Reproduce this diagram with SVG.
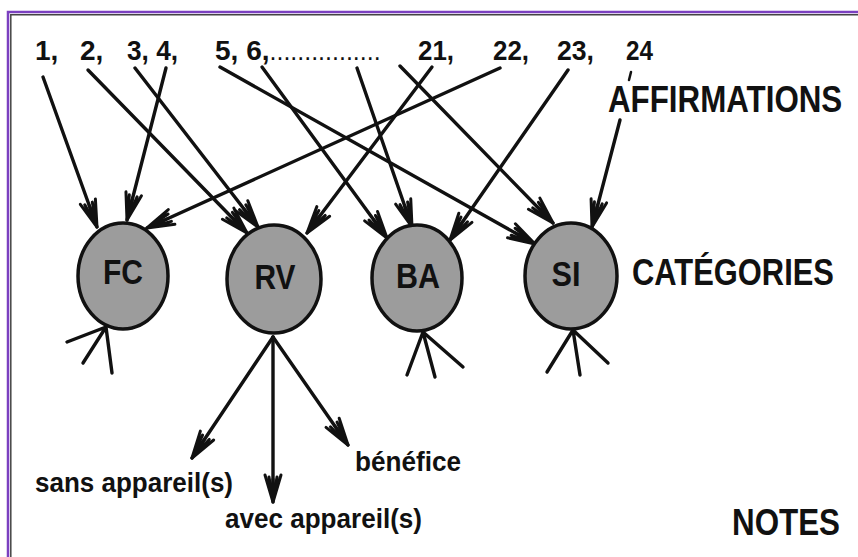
<svg xmlns="http://www.w3.org/2000/svg" width="858" height="557" viewBox="0 0 858 557">
  <style>
    .frame-out { stroke: #7b40c0; stroke-width: 2.5; fill: none; }
    .frame-in { stroke: #444; stroke-width: 1.5; fill: none; }
    .node { fill: #9c9c9c; stroke: #111; stroke-width: 3.5; }
    .lbl { font-family: "Liberation Sans", Arial, sans-serif; font-weight: bold; fill: #111; }
    .edge { stroke: #111; stroke-width: 3.4; fill: none; stroke-linecap: round; }
    .stub { stroke: #111; stroke-width: 3.4; fill: none; stroke-linecap: round; }
  </style>
  <defs>
    <marker id="arr" markerUnits="userSpaceOnUse" viewBox="-30 -12 32 24" markerWidth="32" markerHeight="24" refX="0" refY="0" orient="auto" overflow="visible">
      <path d="M0,0 L-27,-8 M0,0 L-27,8 M0,0 L-25,-4 M0,0 L-25,4 M0,0 L-23,0" stroke="#111" stroke-width="3" fill="none" stroke-linecap="round"/>
    </marker>
  </defs>
  <rect width="858" height="557" fill="#fff"/>
  <path class="frame-out" d="M8,557 L8,12 L858,12"/>
  <path class="frame-in" d="M10.8,557 L10.8,14.8 L858,14.8"/>

  <g id="affirmations" class="lbl" font-size="28">
    <text x="35" y="60">1,</text>
    <text x="80" y="60">2,</text>
    <text x="127" y="60" textLength="51" lengthAdjust="spacingAndGlyphs">3, 4,</text>
    <text x="215" y="60">5, 6,<tspan font-size="25" font-weight="normal">................</tspan></text>
    <text x="418" y="60" textLength="36" lengthAdjust="spacingAndGlyphs">21,</text>
    <text x="493" y="60" textLength="36" lengthAdjust="spacingAndGlyphs">22,</text>
    <text x="557" y="60" textLength="37" lengthAdjust="spacingAndGlyphs">23,</text>
    <text x="626" y="60" textLength="27" lengthAdjust="spacingAndGlyphs">24</text>
    <path d="M631,72 L629,80" stroke="#111" stroke-width="2.5" stroke-linecap="round"/>
    <text transform="translate(608,112) scale(0.87,1)" font-size="36">AFFIRMATIONS</text>
  </g>

  <g id="connectors">
    <line class="edge" x1="43" y1="77" x2="97" y2="227" marker-end="url(#arr)"/>
    <line class="edge" x1="88" y1="70" x2="247" y2="233" marker-end="url(#arr)"/>
    <line class="edge" x1="135" y1="68" x2="258" y2="227" marker-end="url(#arr)"/>
    <line class="edge" x1="166" y1="68" x2="127" y2="220" marker-end="url(#arr)"/>
    <line class="edge" x1="220" y1="67" x2="535" y2="244" marker-end="url(#arr)"/>
    <line class="edge" x1="262" y1="67" x2="387" y2="238" marker-end="url(#arr)"/>
    <line class="edge" x1="357" y1="68" x2="412" y2="227" marker-end="url(#arr)"/>
    <line class="edge" x1="400" y1="66" x2="553" y2="223" marker-end="url(#arr)"/>
    <line class="edge" x1="432" y1="67" x2="307" y2="233" marker-end="url(#arr)"/>
    <line class="edge" x1="500" y1="68" x2="147" y2="228" marker-end="url(#arr)"/>
    <line class="edge" x1="568" y1="70" x2="450" y2="240" marker-end="url(#arr)"/>
    <line class="edge" x1="620" y1="120" x2="592" y2="227" marker-end="url(#arr)"/>

    <line class="edge" x1="273" y1="337" x2="192" y2="458" marker-end="url(#arr)"/>
    <line class="edge" x1="273" y1="337" x2="273" y2="502" marker-end="url(#arr)"/>
    <line class="edge" x1="273" y1="337" x2="348" y2="445" marker-end="url(#arr)"/>

    <path class="stub" d="M106,327 L67,342 M106,327 L83,363 M106,327 L112,373"/>
    <path class="stub" d="M423,332 L407,375 M423,332 L435,377 M423,332 L463,367"/>
    <path class="stub" d="M573,330 L547,372 M573,330 L580,375 M573,330 L608,363"/>
  </g>

  <g id="node-FC">
    <ellipse class="node" cx="123" cy="276" rx="45" ry="53"/>
    <text class="lbl" x="123" y="284" font-size="35" text-anchor="middle" textLength="40" lengthAdjust="spacingAndGlyphs">FC</text>
  </g>
  <g id="node-RV">
    <ellipse class="node" cx="274" cy="279" rx="47" ry="54"/>
    <text class="lbl" x="275" y="289" font-size="35" text-anchor="middle" textLength="41" lengthAdjust="spacingAndGlyphs">RV</text>
  </g>
  <g id="node-BA">
    <ellipse class="node" cx="417" cy="278" rx="45" ry="53"/>
    <text class="lbl" x="418" y="288" font-size="35" text-anchor="middle" textLength="44" lengthAdjust="spacingAndGlyphs">BA</text>
  </g>
  <g id="node-SI">
    <ellipse class="node" cx="571" cy="276" rx="46" ry="53"/>
    <text class="lbl" x="566" y="286" font-size="35" text-anchor="middle" textLength="29" lengthAdjust="spacingAndGlyphs">SI</text>
  </g>

  <g id="labels" class="lbl">
    <text transform="translate(632,285) scale(0.835,1)" font-size="37">CATÉGORIES</text>
    <text x="732" y="535" font-size="37" textLength="108" lengthAdjust="spacingAndGlyphs">NOTES</text>
  </g>
  <g id="notes" class="lbl" font-size="28">
    <text x="35" y="492" textLength="198" lengthAdjust="spacingAndGlyphs">sans appareil(s)</text>
    <text x="225" y="528" textLength="197" lengthAdjust="spacingAndGlyphs">avec appareil(s)</text>
    <text x="355" y="471" textLength="106" lengthAdjust="spacingAndGlyphs">bénéfice</text>
  </g>
</svg>
